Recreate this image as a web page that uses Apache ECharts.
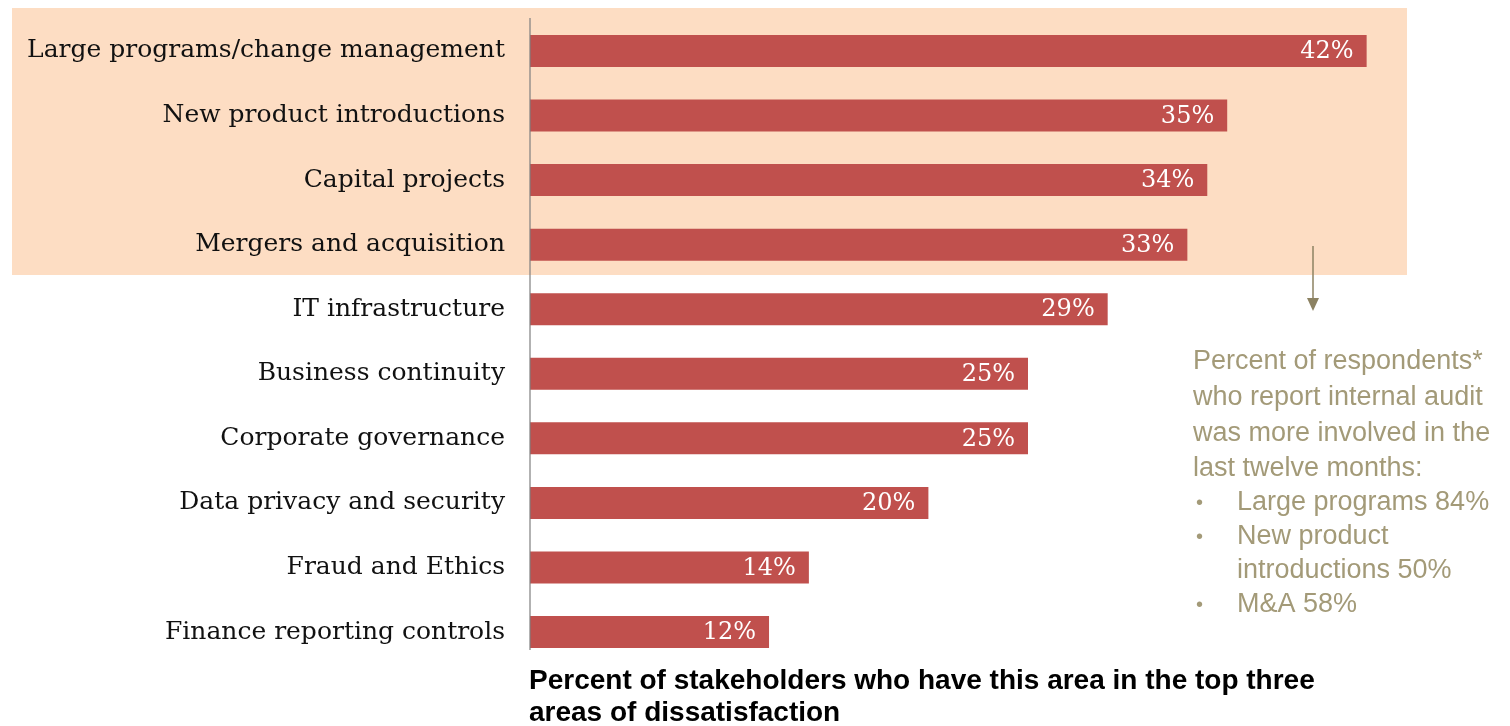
<!DOCTYPE html>
<html>
<head>
<meta charset="utf-8">
<script src="https://cdn.jsdelivr.net/npm/echarts@6/dist/echarts.min.js"></script>
<style>
  html, body { margin: 0; padding: 0; background: #ffffff; }
  #chart { width: 1510px; height: 726px; }
</style>
</head>
<body>
<div id="chart"></div>
<script>
// Areas of dissatisfaction, listed top to bottom
const categories = [
  'Large programs/change management',
  'New product introductions',
  'Capital projects',
  'Mergers and acquisition',
  'IT infrastructure',
  'Business continuity',
  'Corporate governance',
  'Data privacy and security',
  'Fraud and Ethics',
  'Finance reporting controls'
];
// Percent of stakeholders naming each area in their top three
const values = [42, 35, 34, 33, 29, 25, 25, 20, 14, 12];

const noteLines = [
  'Percent of respondents*',
  'who report internal audit',
  'was more involved in the',
  'last twelve months:'
];
const noteBullets = [
  ['Large programs 84%'],
  ['New product', 'introductions 50%'],
  ['M&A 58%']
];
const axisTitle = [
  'Percent of stakeholders who have this area in the top three',
  'areas of dissatisfaction'
];

const chart = echarts.init(document.getElementById('chart'));

const noteColor = '#A39A78';
const noteFont = '27px "Liberation Sans", Arial, sans-serif';
const graphics = [
  // highlight band behind the top four areas
  { type: 'rect', z: -10, shape: { x: 12, y: 8, width: 1395, height: 267 },
    style: { fill: '#FDDDC3' } },
  // category axis line
  { type: 'line', z: 10, shape: { x1: 530, y1: 18, x2: 530, y2: 650 },
    style: { stroke: '#7F7F7F', lineWidth: 1.2 } },
  // arrow pointing to the note
  { type: 'line', shape: { x1: 1313, y1: 246, x2: 1313, y2: 300 },
    style: { stroke: '#8C8262', lineWidth: 1.5 } },
  { type: 'polygon', shape: { points: [[1307, 298], [1319, 298], [1313, 311]] },
    style: { fill: '#8C8262' } }
];

const noteY = [362, 398, 434, 469];
noteLines.forEach((t, i) => {
  graphics.push({ type: 'text', x: 1193, y: noteY[i],
    style: { text: t, fill: noteColor, font: noteFont, verticalAlign: 'middle' } });
});
let y = 503;
noteBullets.forEach(b => {
  graphics.push({ type: 'text', x: 1196, y: y,
    style: { text: '•', fill: noteColor, font: '20px "Liberation Sans", Arial, sans-serif', verticalAlign: 'middle' } });
  b.forEach(t => {
    graphics.push({ type: 'text', x: 1237, y: y,
      style: { text: t, fill: noteColor, font: noteFont, verticalAlign: 'middle' } });
    y += 34;
  });
});
axisTitle.forEach((t, i) => {
  graphics.push({ type: 'text', x: 529, y: 681 + i * 32,
    style: { text: t, fill: '#000000', font: 'bold 28px "Liberation Sans", Arial, sans-serif', verticalAlign: 'middle' } });
});

chart.setOption({
  animation: false,
  grid: { left: 530, top: 18.7, height: 645.6, width: 896.4 },
  xAxis: {
    type: 'value', min: 0, max: 45,
    show: false
  },
  yAxis: {
    type: 'category',
    data: categories,
    inverse: true,
    axisLine: { show: false },
    axisTick: { show: false },
    axisLabel: {
      margin: 25,
      color: '#111111',
      fontFamily: '"DejaVu Serif", "Liberation Serif", serif',
      fontSize: 25
    }
  },
  series: [{
    type: 'bar',
    data: values,
    barWidth: 32,
    itemStyle: { color: '#C0504D' },
    label: {
      show: true,
      position: 'insideRight',
      offset: [-8, 1],
      formatter: p => p.value + '%',
      color: '#ffffff',
      fontFamily: '"DejaVu Serif", "Liberation Serif", serif',
      fontSize: 24
    }
  }],
  graphic: graphics
});
</script>
</body>
</html>
